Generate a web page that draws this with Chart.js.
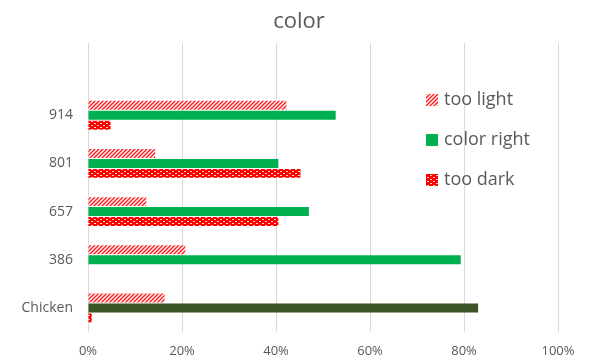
<!DOCTYPE html>
<html>
<head>
<meta charset="utf-8">
<script src="https://cdn.jsdelivr.net/npm/chart.js@4"></script>
<style>
  body { margin: 0; background: #fff; }
  #wrap { width: 592px; height: 360px; }
</style>
</head>
<body>
<div id="wrap"><canvas id="myChart" width="592" height="360"></canvas></div>
<script>
// categories, top to bottom
const categories = ['914', '801', '657', '386', 'Chicken'];
// percent of samples per rating
const tooLight = [42.2, 14.3, 12.4, 20.7, 16.3];
const colorRight = [52.7, 40.5, 47.0, 79.3, 83.0];
const tooDark = [4.8, 45.2, 40.5, 0, 0.8];
const xTicks = [0, 20, 40, 60, 80, 100];

const FONT = '"Open Sans", Lato, sans-serif';

// red diagonal hatching
function makeHatch() {
  const c = document.createElement('canvas');
  c.width = 4; c.height = 4;
  const g = c.getContext('2d');
  g.fillStyle = '#fff';
  g.fillRect(0, 0, 4, 4);
  g.strokeStyle = '#ff2020';
  g.lineWidth = 1.5;
  g.beginPath();
  g.moveTo(-1, 5); g.lineTo(5, -1);
  g.moveTo(-1, 1); g.lineTo(1, -1);
  g.moveTo(3, 5); g.lineTo(5, 3);
  g.stroke();
  return g.createPattern(c, 'repeat');
}

// red fill with small white dots
function makeDots() {
  const c = document.createElement('canvas');
  c.width = 6; c.height = 4;
  const g = c.getContext('2d');
  g.fillStyle = '#ff0000';
  g.fillRect(0, 0, 6, 4);
  g.fillStyle = '#ffd0d0';
  g.fillRect(1, 1, 2, 1);
  g.fillRect(4, 3, 2, 1);
  return g.createPattern(c, 'repeat');
}

const hatch = makeHatch();
const dots = makeDots();
const greenCols = [null].concat(categories.map(c => c === 'Chicken' ? '#3b5525' : '#00b050'));

// title + legend drawn by hand so they can sit where they do
const decorations = {
  id: 'decorations',
  afterDraw(chart) {
    const ctx = chart.ctx;
    ctx.save();
    ctx.fillStyle = '#595959';
    ctx.font = '22px ' + FONT;
    ctx.textAlign = 'center';
    ctx.textBaseline = 'middle';
    ctx.fillText('color', 299, 22);

    const items = [
      { text: 'too light', fill: hatch },
      { text: 'color right', fill: '#00b050' },
      { text: 'too dark', fill: dots }
    ];
    ctx.font = '18px ' + FONT;
    ctx.textAlign = 'left';
    items.forEach((it, i) => {
      const y = 100 + i * 40;
      ctx.fillStyle = '#fff';
      ctx.fillRect(424, y - 7, 16, 14);
      ctx.fillStyle = it.fill;
      ctx.fillRect(426, y - 6, 12, 12);
      ctx.fillStyle = '#595959';
      ctx.fillText(it.text, 444, y);
    });
    ctx.restore();
  }
};

const ctx = document.getElementById('myChart').getContext('2d');

// leading blank row keeps the top band empty
new Chart(ctx, {
  type: 'bar',
  data: {
    labels: [''].concat(categories),
    datasets: [
      { label: 'too light', data: [null].concat(tooLight), backgroundColor: hatch },
      { label: 'color right', data: [null].concat(colorRight), backgroundColor: greenCols },
      { label: 'too dark', data: [null].concat(tooDark), backgroundColor: dots }
    ]
  },
  options: {
    indexAxis: 'y',
    responsive: false,
    animation: false,
    layout: { padding: { left: 0, right: 34, top: 43, bottom: 0 } },
    datasets: {
      bar: { categoryPercentage: 0.62, barPercentage: 0.9, borderWidth: 0 }
    },
    plugins: {
      legend: { display: false },
      tooltip: { enabled: false },
      title: { display: false }
    },
    scales: {
      x: {
        min: 0,
        max: 100,
        afterBuildTicks: s => { s.ticks = xTicks.map(v => ({ value: v })); },
        afterFit: s => { s.height = 28; },
        border: { display: false },
        grid: { color: '#d9d9d9', lineWidth: 1, tickLength: 0 },
        ticks: {
          padding: 11,
          color: '#595959',
          font: { family: FONT, size: 13 },
          callback: v => v + '%'
        }
      },
      y: {
        afterFit: s => { s.width = 88; },
        border: { display: false },
        grid: { display: false, drawTicks: false },
        ticks: {
          padding: 15,
          color: '#595959',
          font: { family: FONT, size: 14 }
        }
      }
    }
  },
  plugins: [decorations]
});
</script>
</body>
</html>
